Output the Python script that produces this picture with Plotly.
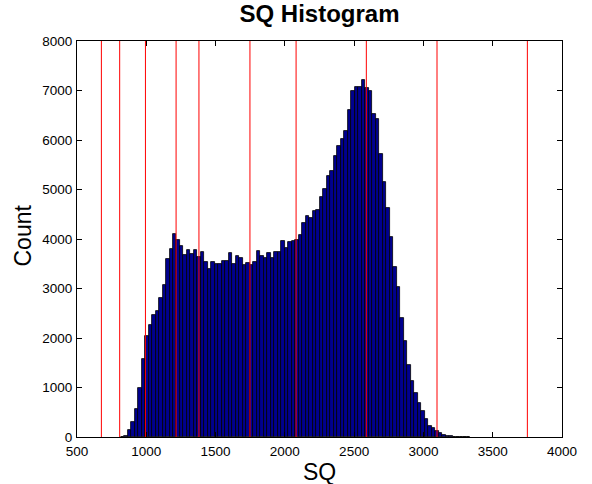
import plotly.graph_objects as go

# Histogram: 100 bins starting at bin_start with width bin_width
bin_start = 814.0
bin_width = 25.25
counts = [
    10, 30, 133, 296, 572, 990, 1582, 2033, 2269, 2457,
    2552, 2808, 3063, 3596, 3804, 4110, 3970, 3860, 3670, 3778,
    3703, 3778, 3630, 3730, 3535, 3400, 3535, 3490, 3505, 3565,
    3565, 3710, 3505, 3663, 3616, 3467, 3515, 3467, 3528, 3750,
    3663, 3616, 3710, 3616, 3730, 3737, 3966, 3818, 3935, 3965,
    3990, 4085, 4323, 4460, 4430, 4558, 4590, 4845, 5013, 5265,
    5366, 5673, 5875, 6023, 6188, 6610, 6990, 7066, 7066, 7205,
    7050, 6990, 6530, 6427, 5717, 5152, 4626, 4040, 3427, 3023,
    2410, 1939, 1447, 1131, 889, 680, 525, 364, 228, 182,
    127, 81, 33, 18, 12, 10, 8, 6, 5, 4,
]
red_lines = [676, 808, 994, 1215, 1380, 1748, 2081, 2588, 3098, 3750]
x_ticks = [500, 1000, 1500, 2000, 2500, 3000, 3500, 4000]
y_ticks = [0, 1000, 2000, 3000, 4000, 5000, 6000, 7000, 8000]

centers = [bin_start + bin_width * (i + 0.5) for i in range(len(counts))]

fig = go.Figure()
fig.add_trace(go.Bar(
    x=centers, y=counts, width=[bin_width] * len(counts),
    marker=dict(color="#00008F", line=dict(color="black", width=0.8)),
    showlegend=False,
))

for xv in red_lines:
    fig.add_shape(type="line", xref="x", yref="y", x0=xv, x1=xv, y0=0, y1=8000,
                  line=dict(color="red", width=1))

font = "Arial, Liberation Sans, sans-serif"
fig.update_layout(
    width=592, height=484,
    margin=dict(l=77, r=30, t=41, b=47),
    paper_bgcolor="white", plot_bgcolor="white",
    bargap=0,
    font=dict(family=font, size=13, color="black"),
    title=dict(text="<b>SQ Histogram</b>", xref="paper", x=0.5, xanchor="center",
               yref="container", y=1 - 14 / 484, yanchor="middle",
               font=dict(size=24, family=font, color="black")),
)
fig.update_xaxes(
    range=[500, 4000], tickvals=x_ticks, ticktext=[str(v) for v in x_ticks],
    ticks="inside", ticklen=5, tickcolor="black", showline=True, linecolor="black", linewidth=1,
    mirror="ticks", showgrid=False, zeroline=False,
    tickfont=dict(size=13.5), ticklabelstandoff=2,
)
fig.update_yaxes(
    range=[0, 8000], tickvals=y_ticks, ticktext=[str(v) for v in y_ticks],
    ticks="inside", ticklen=5, tickcolor="black", showline=True, linecolor="black", linewidth=1,
    mirror="ticks", showgrid=False, zeroline=False,
    tickfont=dict(size=13.5), ticklabelstandoff=1,
)
# axis titles
fig.add_annotation(text="SQ", xref="paper", yref="paper", x=(319 - 77) / 485, y=(437 - 471.5) / 396,
                   xanchor="center", yanchor="middle", showarrow=False,
                   font=dict(size=23, family=font, color="black"))
fig.add_annotation(text="Count", xref="paper", yref="paper", x=(22.5 - 77) / 485, y=(437 - 236) / 396,
                   xanchor="center", yanchor="middle", textangle=-90, showarrow=False,
                   font=dict(size=23, family=font, color="black"))

fig.write_html("out.html")
